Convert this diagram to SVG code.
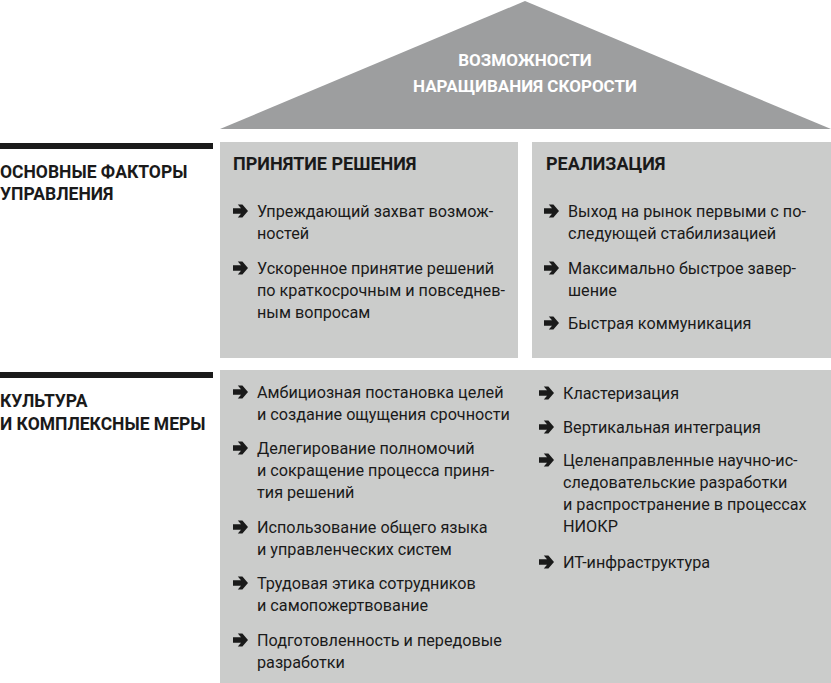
<svg xmlns="http://www.w3.org/2000/svg" width="831" height="683" viewBox="0 0 831 683">
<defs>
<style>
.bg{fill:#ffffff}
.roof{fill:#9d9e9f}
.box{fill:#cbcccb}
.bar{fill:#1a1a1a}
.roofT{font-family:Roboto,"Liberation Sans",sans-serif;font-weight:700;font-size:17px;fill:#ffffff;text-anchor:middle}
.lbl{font-family:Roboto,"Liberation Sans",sans-serif;font-weight:700;font-size:17.5px;fill:#1a1a1a}
.hd{font-family:Roboto,"Liberation Sans",sans-serif;font-weight:700;font-size:18px;fill:#1a1a1a}
.t{font-family:Roboto,"Liberation Sans",sans-serif;font-weight:400;font-size:16.2px;fill:#1a1a1a}
.arr{fill:#1a1a1a}
</style>
<path id="arrow" class="arr" d="M0,-2.7 H8 L4.8,-6.6 H9.4 L15,0 L9.4,6.6 H4.8 L8,2.7 H0 Z"/>
</defs>
<rect class="bg" x="0" y="0" width="831" height="683"/>

<g id="roof">
<polygon class="roof" points="220,129 525,1 831,129"/>
<text class="roofT" x="525" y="66">ВОЗМОЖНОСТИ</text>
<text class="roofT" x="525" y="92">НАРАЩИВАНИЯ СКОРОСТИ</text>
</g>

<g id="label-management">
<rect class="bar" x="0" y="143" width="213" height="6"/>
<text class="lbl" x="0" y="178">ОСНОВНЫЕ ФАКТОРЫ</text>
<text class="lbl" x="0" y="200">УПРАВЛЕНИЯ</text>
</g>

<g id="label-culture">
<rect class="bar" x="0" y="372" width="213" height="6"/>
<text class="lbl" x="0" y="407">КУЛЬТУРА</text>
<text class="lbl" x="0" y="430">И КОМПЛЕКСНЫЕ МЕРЫ</text>
</g>

<g id="box-decision">
<rect class="box" x="220" y="142" width="298" height="216"/>
<text class="hd" x="233" y="170">ПРИНЯТИЕ РЕШЕНИЯ</text>
<use href="#arrow" x="233" y="211"/>
<text class="t" x="257" y="216.5">Упреждающий захват возмож-</text>
<text class="t" x="257" y="238.5">ностей</text>
<use href="#arrow" x="233" y="268"/>
<text class="t" x="257" y="273.5">Ускоренное принятие решений</text>
<text class="t" x="257" y="295.5">по краткосрочным и повседнев-</text>
<text class="t" x="257" y="317.5">ным вопросам</text>
</g>

<g id="box-implementation">
<rect class="box" x="532" y="142" width="299" height="216"/>
<text class="hd" x="546" y="170">РЕАЛИЗАЦИЯ</text>
<use href="#arrow" x="544" y="211"/>
<text class="t" x="568" y="216.5">Выход на рынок первыми с по-</text>
<text class="t" x="568" y="238.5">следующей стабилизацией</text>
<use href="#arrow" x="544" y="268"/>
<text class="t" x="568" y="273.5">Максимально быстрое завер-</text>
<text class="t" x="568" y="295.5">шение</text>
<use href="#arrow" x="544" y="323"/>
<text class="t" x="568" y="328.5">Быстрая коммуникация</text>
</g>

<g id="box-culture">
<rect class="box" x="220" y="370" width="611" height="313"/>
<use href="#arrow" x="233" y="392"/>
<text class="t" x="257" y="397.5">Амбициозная постановка целей</text>
<text class="t" x="257" y="419.5">и создание ощущения срочности</text>
<use href="#arrow" x="233" y="448"/>
<text class="t" x="257" y="453.5">Делегирование полномочий</text>
<text class="t" x="257" y="475.5">и сокращение процесса приня-</text>
<text class="t" x="257" y="497.5">тия решений</text>
<use href="#arrow" x="233" y="527"/>
<text class="t" x="257" y="532.5">Использование общего языка</text>
<text class="t" x="257" y="554.5">и управленческих систем</text>
<use href="#arrow" x="233" y="583"/>
<text class="t" x="257" y="588.5">Трудовая этика сотрудников</text>
<text class="t" x="257" y="610.5">и самопожертвование</text>
<use href="#arrow" x="233" y="640"/>
<text class="t" x="257" y="645.5">Подготовленность и передовые</text>
<text class="t" x="257" y="667.5">разработки</text>

<use href="#arrow" x="539" y="393"/>
<text class="t" x="563" y="398.5">Кластеризация</text>
<use href="#arrow" x="539" y="427"/>
<text class="t" x="563" y="432.5">Вертикальная интеграция</text>
<use href="#arrow" x="539" y="460"/>
<text class="t" x="563" y="465.5">Целенаправленные научно-ис-</text>
<text class="t" x="563" y="487.5">следовательские разработки</text>
<text class="t" x="563" y="509.5">и распространение в процессах</text>
<text class="t" x="563" y="531.5">НИОКР</text>
<use href="#arrow" x="539" y="562"/>
<text class="t" x="563" y="567.5">ИТ-инфраструктура</text>
</g>
</svg>
